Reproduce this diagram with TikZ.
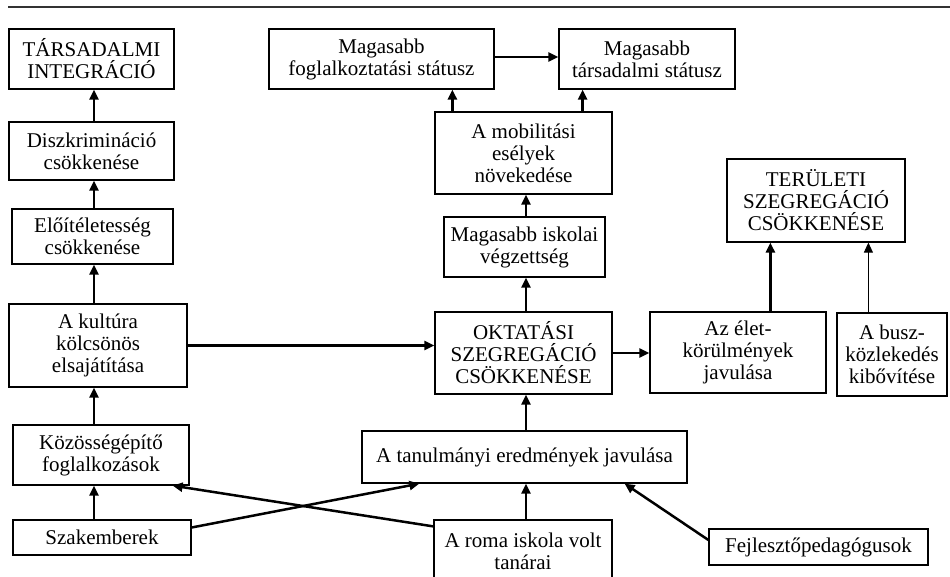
\documentclass[tikz,border=0pt]{standalone}
\usepackage{fontspec}
\setmainfont{Liberation Serif}
\usepackage{tikz}
\usetikzlibrary{arrows.meta,calc}
\definecolor{ink}{HTML}{000000}
\definecolor{rulegray}{HTML}{333333}
\tikzset{
  box/.style   = {draw=ink, line width=1.2pt, inner sep=0pt, align=center,
                  font=\fontsize{21}{22}\selectfont, text=ink},
  arr/.style   = {draw=ink, line width=2.5pt, -{Triangle[length=10pt,width=9pt]}},
  thinarr/.style = {draw=ink, line width=1pt, -{Triangle[length=10pt,width=9pt]}},
  toprule/.style = {draw=rulegray, line width=1.3pt},
}
\newcommand{\sgbox}[5]{\node[box, minimum width=#3pt, minimum height=#4pt] (#1) at (#2) {#5};}

\begin{document}
\begin{tikzpicture}[x=1pt,y=-1pt]
\useasboundingbox (0,0) rectangle (950,576);

% ------------------------------------------------------------------ rule
\coordinate (rl) at (8,7);
\coordinate (rr) at (950,7);
\draw[toprule] (rl) -- (rr);

% ------------------------------------------------------------------ left column
\sgbox{integ}{91.5,59}   {165}{60}{TÁRSADALMI\\INTEGRÁCIÓ}
\sgbox{diszk}{91.5,151}  {165}{58}{Diszkrimináció\\csökkenése}
\sgbox{eloit}{92.5,236.5}{161}{55}{Előítéletesség\\csökkenése}
\sgbox{kult} {98,345.5}  {178}{83}{A kultúra\\kölcsönös\\elsajátítása}
\sgbox{kozos}{101,455}   {176}{60}{Közösségépítő\\foglalkozások}
\sgbox{szak} {102,537.5} {178}{35}{Szakemberek}

% ------------------------------------------------------------------ middle column
\sgbox{fogl} {381.5,59}  {225}{60}{Magasabb\\foglalkoztatási státusz}
\sgbox{tars} {647,59}    {176}{60}{Magasabb\\társadalmi státusz}
\sgbox{mobil}{523.5,153} {177}{82}{A mobilitási\\esélyek\\növekedése}
\sgbox{iskol}{524.5,247} {161}{60}{Magasabb iskolai\\végzettség}
\sgbox{oktat}{523.5,353} {177}{82}{OKTATÁSI\\SZEGREGÁCIÓ\\CSÖKKENÉSE}
\sgbox{tanul}{524.5,457} {325}{52}{A tanulmányi eredmények javulása}
\sgbox{roma} {523,551}   {178}{62}{A roma iskola volt\\tanárai}

% ------------------------------------------------------------------ right column
\sgbox{terul}{816,200.5} {178}{83}{TERÜLETI\\SZEGREGÁCIÓ\\CSÖKKENÉSE}
\sgbox{elet} {738,352.5} {176}{81}{Az élet-\\körülmények\\javulása}
\sgbox{busz} {892,354.5} {110}{83}{A busz-\\közlekedés\\kibővítése}
\sgbox{fejl} {818.5,547} {219}{36}{Fejlesztőpedagógusok}

% ------------------------------------------------------------------ arrows
\coordinate (lcol) at (94,0);
\coordinate (mcol) at (526,0);
\foreach \a/\b in {szak/kozos, kozos/kult, kult/eloit, eloit/diszk, diszk/integ}{\draw[arr] (\a.north -| lcol) -- (\b.south -| lcol);}
\foreach \a/\b in {roma/tanul, tanul/oktat, oktat/iskol, iskol/mobil}{\draw[arr] (\a.north -| mcol) -- (\b.south -| mcol);}

\draw[arr] (kult.east) -- (kult.east -| oktat.west);
\draw[arr] ([yshift=10pt]szak.east) -- ([xshift=58pt]tanul.south west);
\draw[arr] ([yshift=-7pt]roma.north west) -- ([xshift=-17pt]kozos.south east);
\draw[arr] ([yshift=7pt]fejl.west) -- ([xshift=-63pt]tanul.south east);

\draw[arr] ([xshift=18pt]mobil.north west) -- ([xshift=18pt]mobil.north west |- fogl.south);
\draw[arr] ([xshift=-30pt]mobil.north east) -- ([xshift=-30pt]mobil.north east |- tars.south);
\draw[arr] ([yshift=2pt]fogl.east) -- ([yshift=2pt]fogl.east -| tars.west);

\draw[arr] (oktat.east) -- (oktat.east -| elet.west);
\draw[arr] ([xshift=121pt]elet.north west) -- ([xshift=121pt]elet.north west |- terul.south);
\draw[thinarr] ([xshift=32pt]busz.north west) -- ([xshift=32pt]busz.north west |- terul.south);

\end{tikzpicture}
\end{document}
